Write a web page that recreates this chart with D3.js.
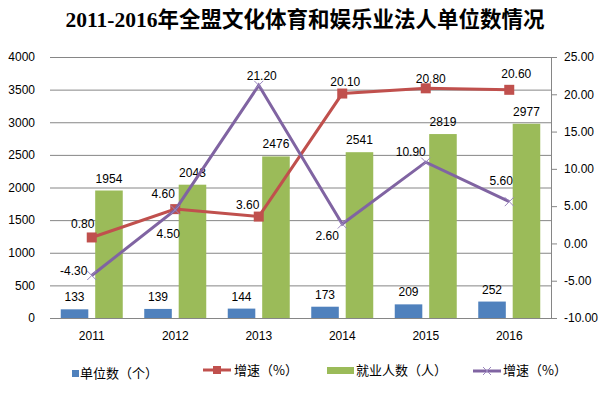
<!DOCTYPE html>
<html>
<head>
<meta charset="utf-8">
<script src="https://cdn.jsdelivr.net/npm/d3@7"></script>
<style>
  body { margin: 0; background: #fff; }
  text { font-family: "Liberation Sans", "Noto Sans CJK SC", sans-serif; fill: #000; }
  .axis path, .axis line { stroke: #868686; }
</style>
</head>
<body>
<div id="chart"></div>
<script>
// data
var years = ["2011", "2012", "2013", "2014", "2015", "2016"];
var units = [133, 139, 144, 173, 209, 252];            // 单位数（个）
var employees = [1954, 2043, 2476, 2541, 2819, 2977];  // 就业人数（人）
var unitGrowth = [0.8, 4.6, 3.6, 20.1, 20.8, 20.6];    // 增速（%） red
var empGrowth = [-4.3, 4.5, 21.2, 2.6, 10.9, 5.6];     // 增速（%） purple
var leftTicks = [0, 500, 1000, 1500, 2000, 2500, 3000, 3500, 4000];
var rightTicks = [-10, -5, 0, 5, 10, 15, 20, 25];

// label nudges for the line values (label centre relative to point)
var redLabelOffset = [[-9, -14], [-12, -15], [-11, -12], [3, -12], [5, -10], [7, -16]];
var purpleLabelOffset = [[-18, -5], [-7, 24], [3, -10], [-15, 12], [-15, -10], [-8, -21]];

var W = 610, H = 398;
var plot = {left: 50, right: 551, top: 57, bottom: 318};
var fmt2 = function(d) { return d.toFixed(2); };

var svg = d3.select("#chart").append("svg")
  .attr("width", W).attr("height", H);

// title
svg.append("text")
  .attr("x", 305).attr("y", 27)
  .attr("text-anchor", "middle")
  .style("font-family", "'Liberation Serif', 'Noto Sans CJK SC', serif")
  .style("font-weight", "bold")
  .style("font-size", "21.5px")
  .text("2011-2016年全盟文化体育和娱乐业法人单位数情况");

// scales
var x = d3.scaleBand().domain(years).range([plot.left, plot.right]);
var xSub = d3.scaleBand().domain(["units", "emp"]).range([-31, 31]).paddingInner(0.2);
var yL = d3.scaleLinear().domain([0, 4000]).range([plot.bottom, plot.top]);
var yR = d3.scaleLinear().domain([-10, 25]).range([plot.bottom, plot.top]);

// gridlines
svg.append("g")
  .attr("class", "axis grid")
  .attr("transform", "translate(" + plot.left + ",0)")
  .call(d3.axisLeft(yL).tickValues(leftTicks).tickSize(-(plot.right - plot.left)).tickFormat(""))
  .call(function(g) { g.select(".domain").remove(); });

// left axis labels
svg.append("g")
  .attr("class", "axis")
  .attr("transform", "translate(" + plot.left + ",0)")
  .call(d3.axisLeft(yL).tickValues(leftTicks).tickSize(0).tickPadding(15).tickFormat(d3.format("d")))
  .call(function(g) { g.select(".domain").remove(); })
  .selectAll("text").style("font-size", "12px");

// right axis
svg.append("g")
  .attr("class", "axis")
  .attr("transform", "translate(" + plot.right + ",0)")
  .call(d3.axisRight(yR).tickValues(rightTicks).tickSize(6).tickSizeOuter(0).tickPadding(7)
    .tickFormat(fmt2))
  .selectAll("text").style("font-size", "12px");

// bottom axis
svg.append("g")
  .attr("class", "axis")
  .attr("transform", "translate(0," + plot.bottom + ")")
  .call(d3.axisBottom(x).tickSize(0).tickSizeOuter(0).tickPadding(13))
  .selectAll("text").style("font-size", "12px");

// bars
var barGroups = svg.append("g").selectAll("g")
  .data(years).enter().append("g")
  .attr("transform", function(d) { return "translate(" + (x(d) + x.bandwidth() / 2) + ",0)"; });

barGroups.append("rect")
  .attr("x", xSub("units"))
  .attr("width", xSub.bandwidth())
  .attr("y", function(d, i) { return yL(units[i]); })
  .attr("height", function(d, i) { return plot.bottom - yL(units[i]); })
  .attr("fill", "#4F81BD");

barGroups.append("rect")
  .attr("x", xSub("emp"))
  .attr("width", xSub.bandwidth())
  .attr("y", function(d, i) { return yL(employees[i]); })
  .attr("height", function(d, i) { return plot.bottom - yL(employees[i]); })
  .attr("fill", "#9BBB59");

barGroups.append("text")
  .attr("x", xSub("units") + xSub.bandwidth() / 2)
  .attr("y", function(d, i) { return yL(units[i]) - 8; })
  .attr("text-anchor", "middle")
  .style("font-size", "12px")
  .text(function(d, i) { return units[i]; });

barGroups.append("text")
  .attr("x", xSub("emp") + xSub.bandwidth() / 2)
  .attr("y", function(d, i) { return yL(employees[i]) - 8; })
  .attr("text-anchor", "middle")
  .style("font-size", "12px")
  .text(function(d, i) { return employees[i]; });

// lines
var cx = function(i) { return x(years[i]) + x.bandwidth() / 2; };
var line = d3.line()
  .x(function(d, i) { return cx(i); })
  .y(function(d) { return yR(d); });

svg.append("path")
  .attr("d", line(unitGrowth))
  .attr("fill", "none")
  .attr("stroke", "#C0504D")
  .attr("stroke-width", 3);

svg.selectAll(".redMark")
  .data(unitGrowth).enter().append("rect")
  .attr("class", "redMark")
  .attr("x", function(d, i) { return cx(i) - 5; })
  .attr("y", function(d) { return yR(d) - 5; })
  .attr("width", 10).attr("height", 10)
  .attr("fill", "#C0504D");

svg.append("path")
  .attr("d", line(empGrowth))
  .attr("fill", "none")
  .attr("stroke", "#8064A2")
  .attr("stroke-width", 3);

svg.selectAll(".purpleMark")
  .data(empGrowth).enter().append("path")
  .attr("class", "purpleMark")
  .attr("d", function(d, i) {
    var px = cx(i), py = yR(d), s = 4.5;
    return "M" + (px - s) + "," + (py - s) + "L" + (px + s) + "," + (py + s) +
      "M" + (px - s) + "," + (py + s) + "L" + (px + s) + "," + (py - s);
  })
  .attr("stroke", "#9A86BE")
  .attr("stroke-width", 1);

// line value labels
svg.selectAll(".redLabel")
  .data(unitGrowth).enter().append("text")
  .attr("x", function(d, i) { return cx(i) + redLabelOffset[i][0]; })
  .attr("y", function(d, i) { return yR(d) + redLabelOffset[i][1]; })
  .attr("dy", "0.35em")
  .attr("text-anchor", "middle")
  .style("font-size", "12px")
  .text(fmt2);

svg.selectAll(".purpleLabel")
  .data(empGrowth).enter().append("text")
  .attr("x", function(d, i) { return cx(i) + purpleLabelOffset[i][0]; })
  .attr("y", function(d, i) { return yR(d) + purpleLabelOffset[i][1]; })
  .attr("dy", "0.35em")
  .attr("text-anchor", "middle")
  .style("font-size", "12px")
  .text(fmt2);

// legend
var legend = svg.append("g").attr("transform", "translate(0,370)");
var legendFont = "'Noto Sans CJK SC', sans-serif";

legend.append("rect").attr("x", 72).attr("y", 0).attr("width", 7).attr("height", 7).attr("fill", "#4F81BD");
legend.append("text").attr("x", 80).attr("y", 3).attr("dy", "0.35em")
  .style("font-family", legendFont).style("font-size", "13px").text("单位数（个）");

legend.append("line").attr("x1", 203).attr("x2", 231).attr("y1", 0).attr("y2", 0)
  .attr("stroke", "#C0504D").attr("stroke-width", 3);
legend.append("rect").attr("x", 213).attr("y", -4).attr("width", 8).attr("height", 8).attr("fill", "#C0504D");
legend.append("text").attr("x", 234).attr("y", 0).attr("dy", "0.35em")
  .style("font-family", legendFont).style("font-size", "13px").text("增速（%）");

legend.append("rect").attr("x", 327).attr("y", -3).attr("width", 27).attr("height", 7).attr("fill", "#9BBB59");
legend.append("text").attr("x", 356).attr("y", 0).attr("dy", "0.35em")
  .style("font-family", legendFont).style("font-size", "13px").text("就业人数（人）");

legend.append("line").attr("x1", 473).attr("x2", 501).attr("y1", 1).attr("y2", 1)
  .attr("stroke", "#8064A2").attr("stroke-width", 3);
legend.append("path").attr("d", "M483,-3L491,5M483,5L491,-3")
  .attr("stroke", "#9A86BE").attr("stroke-width", 1);
legend.append("text").attr("x", 503).attr("y", 0).attr("dy", "0.35em")
  .style("font-family", legendFont).style("font-size", "13px").text("增速（%）");
</script>
</body>
</html>
